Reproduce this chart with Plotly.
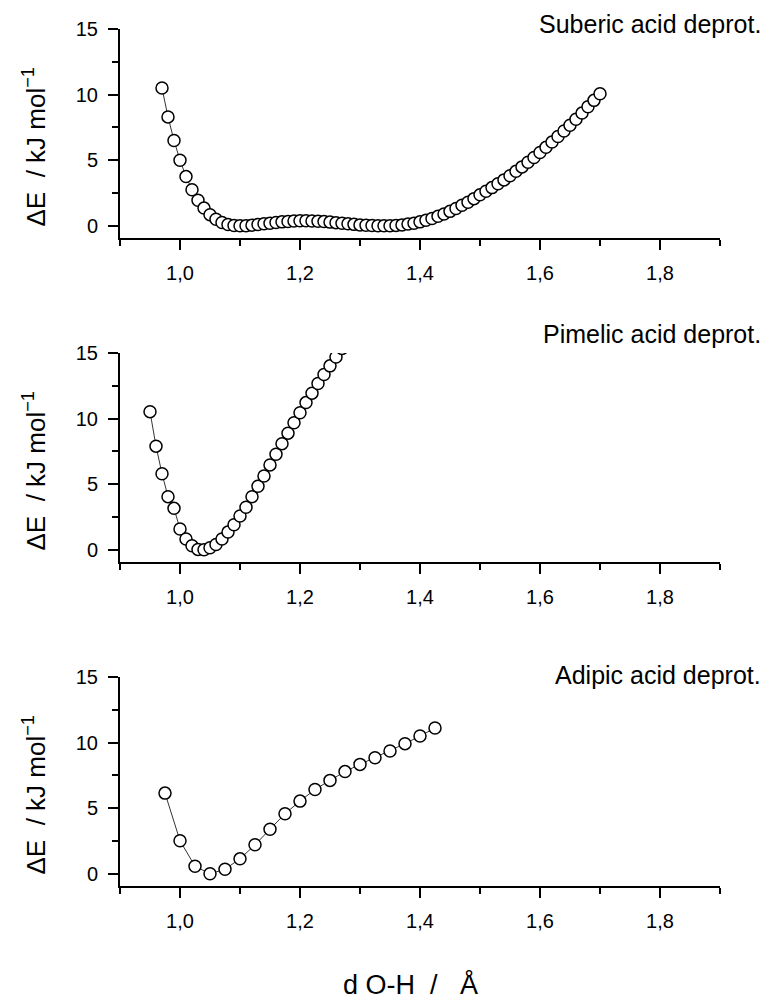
import plotly.graph_objects as go

W, H = 769, 999

# ---------------- data ----------------
suberic_x = [round(0.97 + 0.01 * i, 2) for i in range(74)]  # 0.97 .. 1.70
suberic_y = [10.5, 8.3, 6.5, 5.0, 3.75, 2.75, 1.95, 1.35, 0.85, 0.5,
             0.25, 0.1, 0.02, 0.0, 0.0, 0.05, 0.1, 0.15, 0.2, 0.25,
             0.3, 0.33, 0.36, 0.38, 0.38, 0.37, 0.35, 0.32, 0.28, 0.24,
             0.19, 0.15, 0.11, 0.07, 0.04, 0.02, 0.01, 0.0, 0.0, 0.03,
             0.07, 0.13, 0.2, 0.3, 0.42, 0.56, 0.72, 0.9, 1.1, 1.32,
             1.56, 1.8, 2.07, 2.36, 2.63, 2.91, 3.2, 3.5, 3.82, 4.15,
             4.49, 4.84, 5.21, 5.59, 5.98, 6.38, 6.8, 7.23, 7.67, 8.12,
             8.59, 9.07, 9.56, 10.06]

pimelic_x = [round(0.95 + 0.01 * i, 2) for i in range(34)]  # 0.95 .. 1.28
pimelic_y = [10.53, 7.9, 5.8, 4.05, 3.16, 1.58, 0.82, 0.31, 0.03, 0.0,
             0.15, 0.41, 0.82, 1.35, 1.91, 2.57, 3.24, 4.05, 4.84, 5.63,
             6.47, 7.28, 8.09, 8.89, 9.69, 10.44, 11.22, 11.94, 12.67, 13.36,
             14.02, 14.69, 15.35, 16.0]

adipic_x = [0.975, 1.0, 1.025, 1.05, 1.075, 1.1, 1.125, 1.15, 1.175, 1.2,
            1.225, 1.25, 1.275, 1.3, 1.325, 1.35, 1.375, 1.4, 1.425]
adipic_y = [6.15, 2.52, 0.58, 0.0, 0.35, 1.14, 2.21, 3.4, 4.58, 5.54,
            6.43, 7.12, 7.79, 8.34, 8.85, 9.36, 9.92, 10.5, 11.11]

panel_labels = ["Suberic acid deprot.", "Pimelic acid deprot.", "Adipic acid deprot."]
y_title = "ΔE\u00a0\u00a0/ kJ mol<sup>−1</sup>"
x_title = "d O-H\u00a0\u00a0/\u00a0\u00a0\u00a0Å"
x_tickvals = [1.0, 1.2, 1.4, 1.6, 1.8]
y_tickvals = [0, 5, 10, 15]

# ---------------- layout geometry (pixels) ----------------
plot_left, plot_right = 120, 720
panels_px = [(29, 238), (353, 562), (677, 886)]   # (top, bottom)
label_centers = [24, 334, 675]

FONT = "Arial, Liberation Sans, sans-serif"

fig = go.Figure()
series = [(suberic_x, suberic_y), (pimelic_x, pimelic_y), (adipic_x, adipic_y)]
for i, (xs, ys) in enumerate(series):
    ax = "" if i == 0 else str(i + 1)
    fig.add_trace(go.Scatter(
        x=xs, y=ys, mode="lines+markers",
        xaxis="x" + ax, yaxis="y" + ax,
        line=dict(color="black", width=0.8),
        marker=dict(symbol="circle", size=12, color="white",
                    line=dict(color="black", width=1.5)),
        showlegend=False, cliponaxis=True,
    ))

layout = dict(
    width=W, height=H,
    margin=dict(l=0, r=0, t=0, b=0, autoexpand=False),
    paper_bgcolor="white", plot_bgcolor="white",
    separators=",.",
    font=dict(family=FONT, size=20, color="black"),
    showlegend=False,
)

annotations = []
for i, (top, bot) in enumerate(panels_px):
    ax = "" if i == 0 else str(i + 1)
    ydom = [1 - bot / H, 1 - top / H]
    layout["xaxis" + ax] = dict(
        domain=[plot_left / W, plot_right / W], range=[0.9, 1.9],
        anchor="y" + ax, showgrid=False, zeroline=False, automargin=False,
        showline=True, linecolor="black", linewidth=2,
        ticks="outside", ticklen=10, tickwidth=2, tickcolor="black",
        tickvals=x_tickvals, tickformat=".1f",
        ticklabelstandoff=6,
        minor=dict(dtick=0.1, tick0=0.9, ticks="outside", ticklen=6,
                   tickwidth=2, tickcolor="black", showgrid=False),
        tickfont=dict(family=FONT, size=20),
    )
    layout["yaxis" + ax] = dict(
        domain=ydom, range=[-0.93, 15],
        anchor="x" + ax, showgrid=False, zeroline=False, automargin=False,
        showline=True, linecolor="black", linewidth=2,
        ticks="outside", ticklen=10, tickwidth=2, tickcolor="black",
        tickvals=y_tickvals,
        ticklabelstandoff=6,
        minor=dict(dtick=2.5, tick0=0, ticks="outside", ticklen=6,
                   tickwidth=2, tickcolor="black", showgrid=False),
        tickfont=dict(family=FONT, size=20),
    )
    annotations.append(dict(
        text=panel_labels[i], xref="paper", yref="paper",
        x=763 / W, y=1 - label_centers[i] / H,
        xanchor="right", yanchor="middle", showarrow=False,
        font=dict(family=FONT, size=25, color="black"),
    ))
    annotations.append(dict(
        text=y_title, xref="paper", yref="paper",
        x=35 / W, y=1 - ((top + bot) / 2 + 14) / H,
        xanchor="center", yanchor="middle", textangle=-90, showarrow=False,
        font=dict(family=FONT, size=26, color="black"),
    ))

annotations.append(dict(
    text=x_title, xref="paper", yref="paper",
    x=410 / W, y=1 - 984 / H, xanchor="center", yanchor="middle",
    showarrow=False, font=dict(family=FONT, size=27, color="black"),
))
layout["annotations"] = annotations

fig.update_layout(**layout)
fig.write_html("out.html")
